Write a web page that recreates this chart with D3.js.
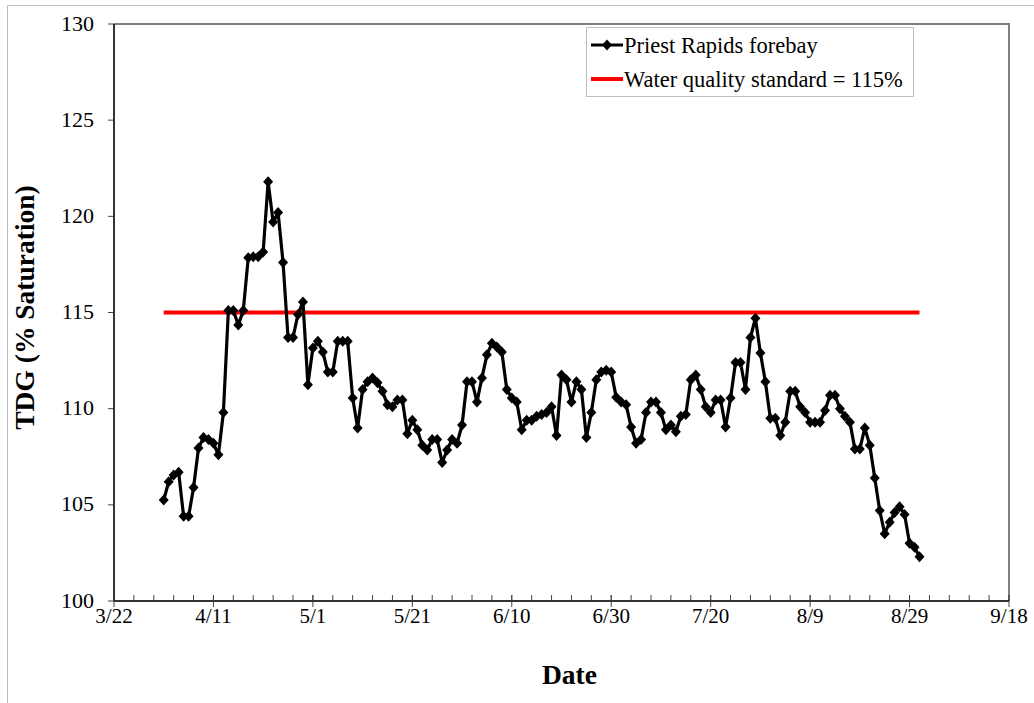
<!DOCTYPE html>
<html><head><meta charset="utf-8">
<script src="https://cdn.jsdelivr.net/npm/d3@7"></script>
<style>
html,body{margin:0;padding:0;background:#fff;}
svg{display:block;}
text{font-family:"Liberation Serif","Times New Roman",serif;}
</style></head>
<body>
<script>
// ---- data ----
const seriesName = "Priest Rapids forebay";
const standardName = "Water quality standard = 115%";
const firstDate = "2010-04-01";   // daily readings start
const tdgValues = [
 105.25,106.2,106.55,106.7,104.4,104.4,105.9,107.95,108.5,108.4,
 108.2,107.6,109.8,115.1,115.1,114.35,115.1,117.85,117.9,117.9,
 118.15,121.8,119.7,120.2,117.6,113.7,113.7,114.9,115.55,111.25,
 113.15,113.5,112.95,111.9,111.9,113.5,113.5,113.5,110.55,109.0,
 111.0,111.4,111.6,111.35,110.9,110.2,110.1,110.45,110.45,108.7,
 109.4,108.9,108.1,107.85,108.4,108.4,107.2,107.85,108.4,108.2,
 109.15,111.4,111.4,110.35,111.6,112.8,113.4,113.2,112.95,111.0,
 110.55,110.35,108.9,109.4,109.4,109.6,109.7,109.8,110.1,108.6,
 111.75,111.5,110.35,111.4,111.0,108.5,109.8,111.5,111.9,112.0,
 111.9,110.6,110.35,110.2,109.05,108.2,108.4,109.8,110.35,110.35,
 109.8,108.9,109.15,108.8,109.6,109.7,111.5,111.75,111.0,110.1,
 109.8,110.45,110.45,109.05,110.55,112.4,112.4,111.0,113.7,114.7,
 112.9,111.4,109.5,109.5,108.6,109.3,110.9,110.9,110.1,109.8,
 109.3,109.3,109.3,109.9,110.7,110.7,110.0,109.6,109.3,107.9,
 107.9,109.0,108.1,106.4,104.7,103.5,104.1,104.6,104.9,104.5,
 103.0,102.8,102.3
];
const standardValue = 115;
const xTickLabels = ["3/22","4/11","5/1","5/21","6/10","6/30","7/20","8/9","8/29","9/18"];
const yTickValues = [100,105,110,115,120,125,130];
const xDomain = ["2010-03-22","2010-09-18"];
const yDomain = [100,130];

// ---- layout ----
const W = 1034, H = 703;
const L = 114, R = 1009, T = 24, B = 601;
const parse = d3.utcParse("%Y-%m-%d");
const start = parse(firstDate);
const data = tdgValues.map((v,i)=>({date:d3.utcDay.offset(start,i), value:v}));

const svg = d3.select("body").append("svg").attr("width",W).attr("height",H);

// outer border
svg.append("rect").attr("x",7.5).attr("y",5.5).attr("width",W+5).attr("height",H-4)
  .attr("fill","none").attr("stroke","#bdbdbd").attr("stroke-width",1);

const x = d3.scaleUtc().domain(xDomain.map(parse)).range([L,R]);
const y = d3.scaleLinear().domain(yDomain).range([B,T]);

// frame (top/right)
svg.append("path").attr("d",`M${L},${T}H${R}V${B}`).attr("fill","none")
  .attr("stroke","#808080").attr("stroke-width",2);

// x axis major ticks (every 20 days) & minor ticks (every 4 days)
const majorDates = d3.utcDay.range(x.domain()[0], d3.utcDay.offset(x.domain()[1],1), 20);
const minorDates = d3.utcDay.range(x.domain()[0], d3.utcDay.offset(x.domain()[1],1), 4);
const gx = svg.append("g");
gx.selectAll("line.minor").data(minorDates).join("line")
  .attr("x1",d=>x(d)).attr("x2",d=>x(d)).attr("y1",B-6).attr("y2",B)
  .attr("stroke","#444").attr("stroke-width",1);
gx.selectAll("line.major").data(majorDates).join("line")
  .attr("x1",d=>x(d)).attr("x2",d=>x(d)).attr("y1",B-6).attr("y2",B+6)
  .attr("stroke","#444").attr("stroke-width",1);
gx.selectAll("text").data(majorDates).join("text")
  .attr("x",d=>x(d)).attr("y",B+22).attr("text-anchor","middle")
  .attr("font-size",21).attr("fill","#000")
  .text((d,i)=>xTickLabels[i]);
gx.append("line").attr("x1",L).attr("x2",R).attr("y1",B).attr("y2",B)
  .attr("stroke","#333").attr("stroke-width",2);

// y axis
const gy = svg.append("g");
gy.selectAll("line").data(yTickValues).join("line")
  .attr("x1",L-6).attr("x2",L).attr("y1",d=>y(d)).attr("y2",d=>y(d))
  .attr("stroke","#444").attr("stroke-width",1);
gy.selectAll("text").data(yTickValues).join("text")
  .attr("x",L-20).attr("y",d=>y(d)).attr("dy","0.3em").attr("text-anchor","end")
  .attr("font-size",22).attr("fill","#000").text(d=>d);
gy.append("line").attr("x1",L).attr("x2",L).attr("y1",T).attr("y2",B)
  .attr("stroke","#333").attr("stroke-width",2);

// axis titles
svg.append("text").attr("x",(L+R)/2+8).attr("y",684).attr("text-anchor","middle")
  .attr("font-size",27.5).attr("font-weight","bold").text("Date");
svg.append("text").attr("transform",`translate(34,${(T+B)/2-5}) rotate(-90)`)
  .attr("text-anchor","middle").attr("font-size",27.5).attr("font-weight","bold")
  .text("TDG (% Saturation)");

// standard line
svg.append("line").attr("x1",x(data[0].date)).attr("x2",x(data[data.length-1].date))
  .attr("y1",y(standardValue)).attr("y2",y(standardValue))
  .attr("stroke","#ff0000").attr("stroke-width",4);

// series
const line = d3.line().x(d=>x(d.date)).y(d=>y(d.value));
svg.append("path").datum(data).attr("d",line).attr("fill","none")
  .attr("stroke","#000").attr("stroke-width",3.2).attr("stroke-linejoin","round");
const diamond = "M0,-5.5L5,0L0,5.5L-5,0Z";
svg.selectAll("path.pt").data(data).join("path").attr("class","pt")
  .attr("d",diamond).attr("transform",d=>`translate(${x(d.date)},${y(d.value)})`)
  .attr("fill","#000");

// legend
const lg = svg.append("g");
lg.append("rect").attr("x",586.5).attr("y",27.5).attr("width",327).attr("height",69)
  .attr("fill","#fff").attr("stroke","#bfbfbf").attr("stroke-width",1);
lg.append("line").attr("x1",591).attr("x2",623).attr("y1",45).attr("y2",45)
  .attr("stroke","#000").attr("stroke-width",3);
lg.append("path").attr("d",diamond).attr("transform","translate(607,45)").attr("fill","#000");
lg.append("text").attr("x",624).attr("y",45).attr("dy","0.35em").attr("font-size",22.5).text(seriesName);
lg.append("line").attr("x1",591).attr("x2",623).attr("y1",79).attr("y2",79)
  .attr("stroke","#ff0000").attr("stroke-width",4);
lg.append("text").attr("x",624).attr("y",79).attr("dy","0.35em").attr("font-size",22.5).text(standardName);
</script>
</body></html>
